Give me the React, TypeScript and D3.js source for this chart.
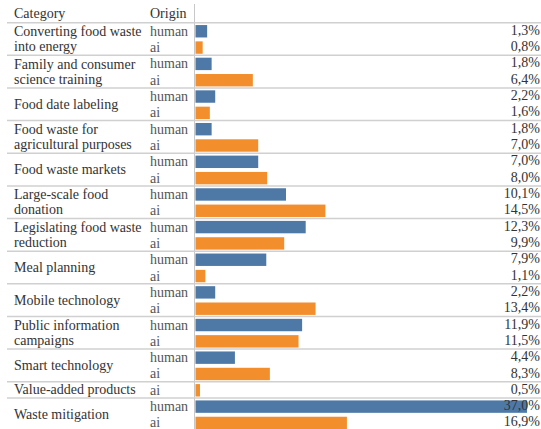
import React from "react";
import * as d3 from "d3";

const categories = [
  "Converting food waste\ninto energy",
  "Family and consumer\nscience training",
  "Food date labeling",
  "Food waste for\nagricultural purposes",
  "Food waste markets",
  "Large-scale food\ndonation",
  "Legislating food waste\nreduction",
  "Meal planning",
  "Mobile technology",
  "Public information\ncampaigns",
  "Smart technology",
  "Value-added products",
  "Waste mitigation",
];
const humanValues: (number | null)[] = [1.3, 1.8, 2.2, 1.8, 7.0, 10.1, 12.3, 7.9, 2.2, 11.9, 4.4, null, 37.0];
const aiValues: (number | null)[] = [0.8, 6.4, 1.6, 7.0, 8.0, 14.5, 9.9, 1.1, 13.4, 11.5, 8.3, 0.5, 16.9];
const headers = ["Category", "Origin"];

const W = 541;
const H = 429;
const FONT = '"Liberation Serif", "Times New Roman", serif';
const COLORS: Record<string, string> = { human: "#4e79a7", ai: "#f28e2b" };
const FS = 14;

export default function App() {
  type Row = { cat: number; origin: string; value: number };
  const rows: Row[] = [];
  const groups: { cat: number; start: number; count: number }[] = [];
  categories.forEach((_, i) => {
    const start = rows.length;
    if (humanValues[i] != null) rows.push({ cat: i, origin: "human", value: humanValues[i] as number });
    if (aiValues[i] != null) rows.push({ cat: i, origin: "ai", value: aiValues[i] as number });
    groups.push({ cat: i, start, count: rows.length - start });
  });

  const y0 = 22.7;
  const rh = 16.32;
  const y = d3.scaleLinear().domain([0, rows.length]).range([y0, y0 + rows.length * rh]);
  const maxV = d3.max(rows, (r) => r.value) as number;
  const x = d3.scaleLinear().domain([0, maxV]).range([195.5, 527]);
  const barH = rh * 0.76;
  const ts = { fontFamily: FONT, fontSize: FS };

  return (
    <svg width={W} height={H} style={{ position: "absolute", left: 0, top: 0, background: "#fff" }}>
      <text x={14} y={18} style={ts} fill="#333">{headers[0]}</text>
      <text x={150} y={18} style={ts} fill="#333">{headers[1]}</text>
      <line x1={194.5} x2={194.5} y1={4} y2={H} stroke="#c8c8c8" strokeWidth={1} />
      {groups.map((g) => (
        <line key={"l" + g.cat} x1={7} x2={W} y1={y(g.start)} y2={y(g.start)} stroke="#d0d0d0" strokeWidth={1.5} />
      ))}
      {rows.map((r, i) => (
        <rect key={"b" + i} x={x(0)} y={y(i) + (rh - barH) / 2 + 0.4} width={x(r.value) - x(0)} height={barH} fill={COLORS[r.origin]} />
      ))}
      {rows.map((r, i) => (
        <text key={"o" + i} x={150} y={y(i) + rh / 2} dy="0.35em" style={ts} fill="#555">{r.origin}</text>
      ))}
      {rows.map((r, i) => (
        <text key={"v" + i} x={540} y={y(i) + rh / 2} dy="0.28em" style={ts} fill="#333" textAnchor="end">
          {r.value.toFixed(1).replace(".", ",") + "%"}
        </text>
      ))}
      {groups.map((g) => {
        const lines = categories[g.cat].split("\n");
        const cy = y(g.start + g.count / 2);
        const lh = 15;
        return (
          <text key={"c" + g.cat} x={14} style={ts} fill="#333">
            {lines.map((ln, k) => (
              <tspan key={k} x={14} y={cy + (k - (lines.length - 1) / 2) * lh} dy="0.32em">{ln}</tspan>
            ))}
          </text>
        );
      })}
    </svg>
  );
}
